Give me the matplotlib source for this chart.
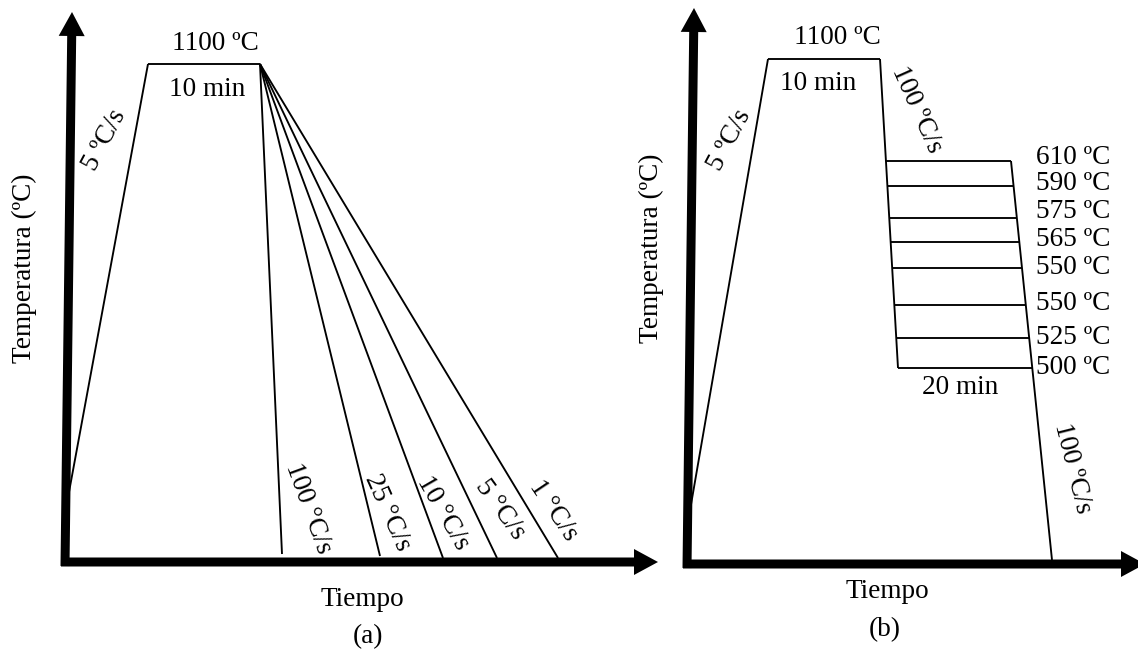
import matplotlib
matplotlib.use("Agg")
import matplotlib.pyplot as plt
from matplotlib.patches import FancyArrow

plt.rcParams["font.family"] = ["Liberation Serif", "DejaVu Serif"]
FS = 19.6

# ---- schematic geometry (canvas units, y grows downward) ----
# panel (a): heating ramp, 10 min hold, continuous cooling fan
a_heat_x = [62, 148]
a_heat_y = [530, 64]
a_hold_x = [148, 260]
a_hold_y = [64, 64]
a_cool_end_x = [282, 380, 443, 497, 558]
a_cool_end_y = [554, 556, 558, 558, 558]
a_cool_labels = ["100 °C/s", "25 °C/s", "10 °C/s", "5 °C/s", "1 °C/s"]

# panel (b): heating ramp, hold, quench, isothermal holds, final quench
b_heat_x = [688, 768]
b_heat_y = [522, 59]
b_hold_x = [768, 880]
b_hold_y = [59, 59]
b_quench_x = [880, 898]
b_quench_y = [59, 368]
b_iso_levels = ["610 ºC", "590 ºC", "575 ºC", "565 ºC", "550 ºC", "550 ºC", "525 ºC", "500 ºC"]
b_iso_y = [161, 186, 218, 242, 268, 305, 338, 368]
b_final_x = [1011, 1052]
b_final_y = [161, 560]

fig = plt.figure(figsize=(11.38, 6.51), dpi=100)
ax = fig.add_axes([0, 0, 1, 1])
ax.set_xlim(0, 1138)
ax.set_ylim(651, 0)
ax.axis("off")

LW = 1.35
kw = dict(color="black", lw=LW, solid_capstyle="butt")


def thick_arrow(x0, y0, x1, y1):
    ax.add_patch(FancyArrow(x0, y0, x1 - x0, y1 - y0, width=9, head_width=26,
                            head_length=24, length_includes_head=True,
                            color="black", lw=0))


# ---- axes arrows ----
thick_arrow(65, 566, 72, 12)
thick_arrow(61, 562, 658, 562)
thick_arrow(687, 568, 694, 8)
thick_arrow(683, 564, 1145, 564)

# ---- panel (a) ----
ax.plot(a_heat_x, a_heat_y, **kw)
ax.plot(a_hold_x, a_hold_y, **kw)
for xe, ye in zip(a_cool_end_x, a_cool_end_y):
    ax.plot([a_hold_x[1], xe], [a_hold_y[1], ye], **kw)

ax.text(215, 43, "1100 ºC", fontsize=FS, ha="center", va="center")
ax.text(207, 90, "10 min", fontsize=FS, ha="center", va="center")
ax.text(105, 140, "5 ºC/s", fontsize=FS, ha="center", va="center",
        rotation=62, rotation_mode="anchor")
ax.text(24, 268, "Temperatura (ºC)", fontsize=FS, ha="center", va="center",
        rotation=90, rotation_mode="anchor")

a_lab_pos = [(308, 508), (387, 513), (443, 513), (500, 510), (553, 510)]
a_lab_rot = [-70, -66, -60, -54, -56]
for (lx, ly), rot, txt in zip(a_lab_pos, a_lab_rot, a_cool_labels):
    ax.text(lx, ly, txt, fontsize=FS, ha="center", va="center",
            rotation=rot, rotation_mode="anchor")

ax.text(362, 600, "Tiempo", fontsize=FS, ha="center", va="center")
ax.text(368, 637, "(a)", fontsize=FS, ha="center", va="center")

# ---- panel (b) ----
ax.plot(b_heat_x, b_heat_y, **kw)
ax.plot(b_hold_x, b_hold_y, **kw)
ax.plot(b_quench_x, b_quench_y, **kw)
ax.plot(b_final_x, b_final_y, **kw)


def boundary_x(xs, ys, y):
    return xs[0] + (xs[1] - xs[0]) * (y - ys[0]) / (ys[1] - ys[0])


for y in b_iso_y:
    xl = boundary_x(b_quench_x, b_quench_y, y)
    xr = boundary_x(b_final_x, b_final_y, y)
    ax.plot([xl, xr], [y, y], **kw)

b_lab_y = [157, 183, 212, 240, 268, 303, 337, 368]
for ly, txt in zip(b_lab_y, b_iso_levels):
    ax.text(1036, ly, txt, fontsize=FS, ha="left", va="center")

ax.text(837, 37, "1100 ºC", fontsize=FS, ha="center", va="center")
ax.text(818, 83, "10 min", fontsize=FS, ha="center", va="center")
ax.text(730, 140, "5 ºC/s", fontsize=FS, ha="center", va="center",
        rotation=62, rotation_mode="anchor")
ax.text(917, 110, "100 ºC/s", fontsize=FS, ha="center", va="center",
        rotation=-66, rotation_mode="anchor")
ax.text(960, 388, "20 min", fontsize=FS, ha="center", va="center")
ax.text(1072, 468, "100 ºC/s", fontsize=FS, ha="center", va="center",
        rotation=-76, rotation_mode="anchor")
ax.text(651, 248, "Temperatura (ºC)", fontsize=FS, ha="center", va="center",
        rotation=90, rotation_mode="anchor")
ax.text(887, 592, "Tiempo", fontsize=FS, ha="center", va="center")
ax.text(885, 630, "(b)", fontsize=FS, ha="center", va="center")

fig.savefig("out.png", dpi=100, facecolor="white")
